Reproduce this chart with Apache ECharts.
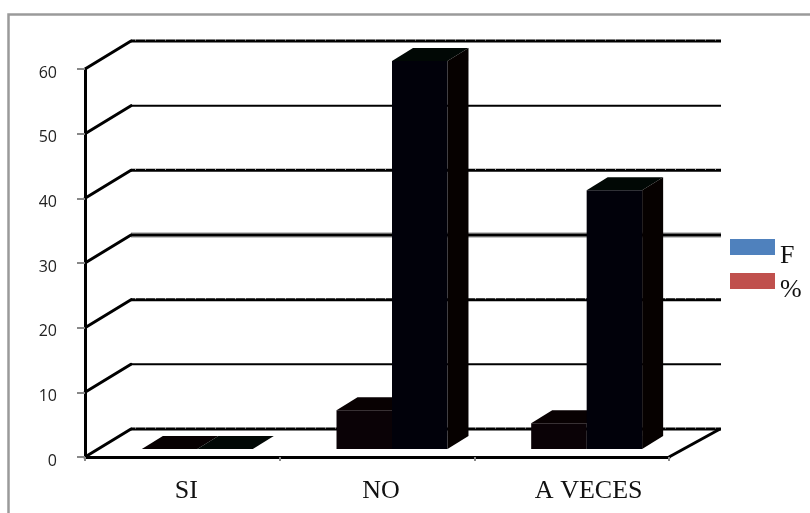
<!DOCTYPE html>
<html><head><meta charset="utf-8">
<style>html,body{margin:0;padding:0;background:#fff}#c{width:810px;height:513px}</style>
<script src="https://cdn.jsdelivr.net/npm/echarts@6/dist/echarts.min.js"></script>
</head><body><div id="c"></div>
<script>
const categories = ['SI', 'NO', 'A VECES'];
const valuesF = [0, 6, 4];
const valuesPct = [0, 60, 40];
const yTicks = [0, 10, 20, 30, 40, 50, 60];
const labelShift = { 'SI': 'a', 'NO': 'a', 'A VECES': 'b' };

const wallDX = 46, wallDY = -28, wallRight = 51;
const barDX = 21, barDY = -13, baseDX = 15, baseDY = -8;
const lineWidths = { 0: 3, 10: 2, 20: 3, 30: 2.5, 40: 3, 50: 2, 60: 3 };

function renderWall(params, api) {
  const v = api.value(1), cs = params.coordSys;
  const y = api.coord([0, v])[1];
  const x0 = cs.x, x1 = cs.x + cs.width + wallRight;
  const bx = x0 + wallDX, by = y + wallDY;
  const kids = [];
  if (v === 30) kids.push({ type: 'line', shape: { x1: bx, y1: by, x2: x1 + 1, y2: by },
    style: { stroke: '#8c8c8c', lineWidth: 5 } });
  kids.push({ type: 'line', shape: { x1: bx, y1: by, x2: x1 + 1, y2: by },
    style: { stroke: '#000', lineWidth: lineWidths[v] } });
  kids.push({ type: 'line', shape: { x1: x0, y1: y, x2: bx, y2: by },
    style: { stroke: '#000', lineWidth: 3, lineCap: 'round' } });
  if (lineWidths[v] === 3) kids.push({ type: 'line', shape: { x1: bx + 4, y1: by - 1, x2: x1, y2: by - 1 },
    style: { stroke: '#fff', lineWidth: 1, lineDash: [1, 9], opacity: 0.75 } });
  if (v === 0) kids.push({ type: 'line',
    shape: { x1: cs.x + cs.width, y1: y, x2: x1, y2: by },
    style: { stroke: '#000', lineWidth: 3 } });
  return { type: 'group', children: kids };
}

function barRenderer(sideSign, colors) {
  return function (params, api) {
    const idx = api.value(0), val = api.value(1);
    const top = api.coord([idx, val]), base = api.coord([idx, 0]);
    const w = api.size([1, 0])[0] * 0.285;
    const cx = base[0] + baseDX;
    const xL = sideSign < 0 ? cx - w : cx, xR = xL + w;
    const yB = base[1] + baseDY, yT = top[1] + baseDY;
    return { type: 'group', children: [
      { type: 'polygon', shape: { points: [[xL, yT], [xL + barDX, yT + barDY], [xR + barDX, yT + barDY], [xR, yT]] },
        style: { fill: colors.top } },
      { type: 'polygon', shape: { points: [[xR, yT], [xR + barDX, yT + barDY], [xR + barDX, yB + barDY], [xR, yB]] },
        style: { fill: colors.side } },
      { type: 'rect', shape: { x: xL, y: yT, width: w, height: yB - yT },
        style: { fill: colors.front } }
    ] };
  };
}

const chart = echarts.init(document.getElementById('c'), null, { renderer: 'canvas' });
chart.setOption({
  animation: false,
  backgroundColor: '#fff',
  graphic: [{ type: 'polyline', z: 0, silent: true,
    shape: { points: [[8.5, 513], [8.5, 14.5], [810, 14.5]] },
    style: { stroke: '#9a9a9a', lineWidth: 2.5, fill: null } }],
  grid: { left: 85, right: 141, top: 69, bottom: 56 },
  legend: {
    left: 730, top: 239, padding: 0, orient: 'vertical', itemWidth: 45, itemHeight: 16, itemGap: 4,
    formatter: n => '{t|' + n + '}',
    textStyle: { color: '#111', rich: {
      t: { fontFamily: 'Liberation Serif', fontSize: 26, color: '#111', lineHeight: 44, verticalAlign: 'bottom' }
    } },
    data: [
      { name: 'F', icon: 'rect', itemStyle: { color: '#4f81bd' } },
      { name: '%', icon: 'rect', itemStyle: { color: '#c0504d' } }
    ]
  },
  xAxis: {
    type: 'category', data: categories, z: 5,
    axisLine: { lineStyle: { color: '#000', width: 3 } },
    axisTick: { show: true, length: 4, lineStyle: { color: '#888', width: 2 } },
    axisLabel: {
      margin: 21, color: '#111', interval: 0,
      formatter: v => '{' + labelShift[v] + '|' + v + '}',
      rich: {
        a: { fontFamily: 'Liberation Serif', fontSize: 26, color: '#111', padding: [0, 0, 0, 8] },
        b: { fontFamily: 'Liberation Serif', fontSize: 26, color: '#111', padding: [0, 0, 0, 34] }
      }
    }
  },
  yAxis: {
    type: 'value', min: 0, max: 60, interval: 10, z: 5,
    splitLine: { show: false },
    axisLine: { show: true, lineStyle: { color: '#000', width: 3 } },
    axisTick: { show: true, length: 8, lineStyle: { color: '#888', width: 2 } },
    axisLabel: { margin: 28, formatter: '{t|{value}}', rich: {
      t: { fontFamily: 'Open Sans', fontSize: 16, color: '#222', lineHeight: 24, verticalAlign: 'bottom' }
    } }
  },
  series: [
    { type: 'custom', name: 'wall', silent: true, z: 1, renderItem: renderWall,
      encode: { x: 0, y: 1 }, data: yTicks.map(v => [0, v]) },
    { type: 'custom', name: 'F', z: 3, itemStyle: { color: '#4f81bd' },
      renderItem: barRenderer(-1, { front: '#0a0206', top: '#080102', side: '#060102' }),
      encode: { x: 0, y: 1 }, data: valuesF.map((v, i) => [i, v]) },
    { type: 'custom', name: '%', z: 4, itemStyle: { color: '#c0504d' },
      renderItem: barRenderer(1, { front: '#01010a', top: '#010805', side: '#060100' }),
      encode: { x: 0, y: 1 }, data: valuesPct.map((v, i) => [i, v]) }
  ]
});
</script></body></html>
